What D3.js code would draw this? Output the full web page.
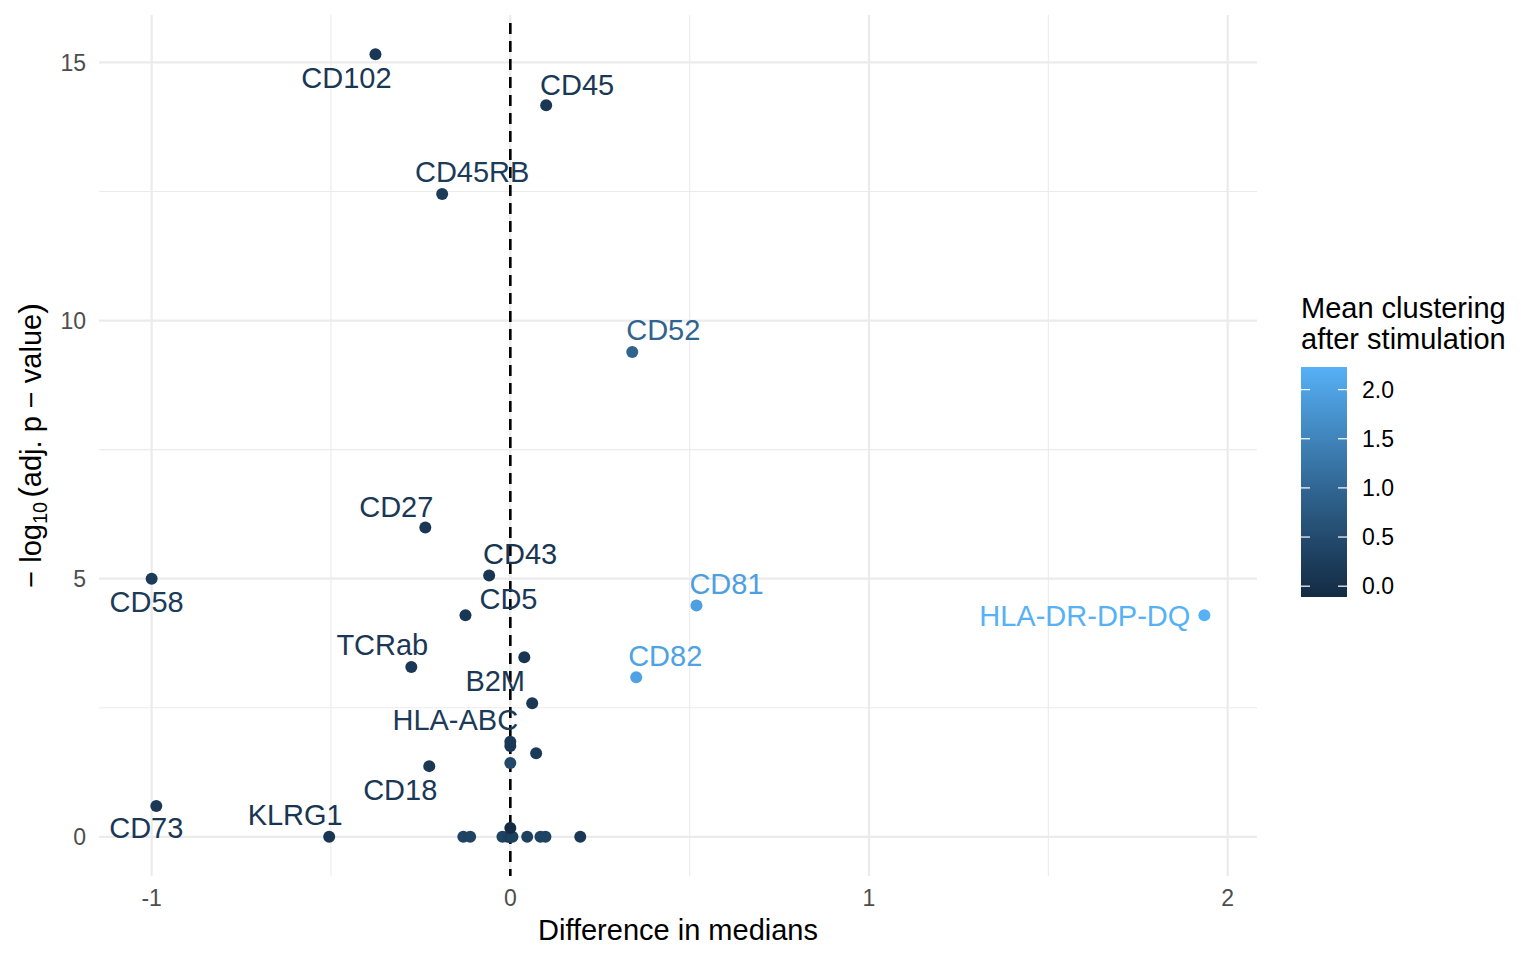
<!DOCTYPE html>
<html lang="en">
<head>
    <meta charset="UTF-8">
    <title>Volcano</title>
    <script src="https://d3js.org/d3.v7.min.js"></script>
    <style>
        body { margin: 0; background: #fff; font-family: "Liberation Sans", Arial, sans-serif; }
    </style>
</head>
<body>
<div id="my_dataviz"></div>
<script>
    // data
    var markers   = ["CD102", "CD45", "CD45RB", "CD52", "CD27", "CD58", "CD43", "CD81", "HLA-DR-DP-DQ", "CD5",
                     "TCRab", "", "CD82", "B2M", "HLA-ABC", "", "", "", "CD18", "CD73",
                     "KLRG1", "", "", "", "", "", "", "", "", "", "", ""];
    var diffMed   = [-0.376, 0.100, -0.190, 0.340, -0.237, -1.000, -0.059, 0.519, 1.935, -0.125,
                     -0.276, 0.039, 0.351, 0.061, 0.000, 0.000, 0.072, 0.000, -0.226, -0.987,
                     -0.505, -0.131, -0.112, -0.022, -0.008, 0.000, 0.006, 0.000, 0.047, 0.084, 0.098, 0.195];
    var negLogP   = [15.16, 14.17, 12.45, 9.39, 5.99, 5.00, 5.06, 4.48, 4.29, 4.29,
                     3.29, 3.48, 3.09, 2.59, 1.84, 1.76, 1.62, 1.43, 1.37, 0.60,
                     0.00, 0.00, 0.00, 0.00, 0.00, 0.00, 0.00, 0.17, 0.00, 0.00, 0.00, 0.00];
    var meanClust = [0.15, 0.15, 0.20, 0.95, 0.15, 0.20, 0.10, 1.95, 2.23, 0.15,
                     0.15, 0.10, 2.00, 0.15, 0.20, 0.15, 0.20, 0.45, 0.15, 0.15,
                     0.10, 0.35, 0.35, 0.35, 0.30, 0.20, 0.30, -0.11, 0.30, 0.35, 0.35, 0.15];
    var xTicks = [-1, 0, 1, 2];
    var yTicks = [0, 5, 10, 15];
    var legendTicks = [0, 0.5, 1, 1.5, 2];

    // label offsets from their point (px), mimicking ggrepel placement
    var labelNudge = {
        "CD102": [-29, 23], "CD45": [31, -21], "CD45RB": [30, -22], "CD52": [31, -22],
        "CD27": [-29, -21], "CD58": [-5, 23], "CD43": [31, -22], "CD81": [30, -22],
        "HLA-DR-DP-DQ": [-14, 0], "CD5": [43, -17], "TCRab": [-29, -22], "CD82": [29, -22],
        "B2M": [-37, -23], "HLA-ABC": [-55, -22], "CD18": [-29, 23], "CD73": [-10, 22],
        "KLRG1": [-34, -22]
    };

    var data = markers.map(function(m, i) {
        return {label: m, x: diffMed[i], y: negLogP[i], c: meanClust[i]};
    });

    var W = 1536, H = 960;
    var panel = {left: 99, right: 1257, top: 15, bottom: 876};

    var svg = d3.select("#my_dataviz")
        .append("svg")
        .attr("width", W)
        .attr("height", H)
        .style("font-family", "'Liberation Sans', Arial, sans-serif");

    // scales with ggplot's 5% expansion
    var xe = d3.extent(diffMed), xp = (xe[1] - xe[0]) * 0.05;
    var ye = d3.extent(negLogP), yp = (ye[1] - ye[0]) * 0.05;
    var x = d3.scaleLinear().domain([xe[0] - xp, xe[1] + xp]).range([panel.left, panel.right]);
    var y = d3.scaleLinear().domain([ye[0] - yp, ye[1] + yp]).range([panel.bottom, panel.top]);
    var col = d3.scaleLinear().domain(d3.extent(meanClust)).range(["#132B43", "#56B1F7"])
        .interpolate(d3.interpolateLab);

    // grid
    var grid = svg.append("g");
    var xMinor = xTicks.slice(0, -1).map(function(t) { return t + 0.5; });
    var yMinor = yTicks.slice(0, -1).map(function(t) { return t + 2.5; });
    grid.selectAll(".xmin").data(xMinor).enter().append("line")
        .attr("x1", d => x(d)).attr("x2", d => x(d)).attr("y1", panel.top).attr("y2", panel.bottom)
        .attr("stroke", "#ebebeb").attr("stroke-width", 1.1);
    grid.selectAll(".ymin").data(yMinor).enter().append("line")
        .attr("y1", d => y(d)).attr("y2", d => y(d)).attr("x1", panel.left).attr("x2", panel.right)
        .attr("stroke", "#ebebeb").attr("stroke-width", 1.1);
    grid.selectAll(".xmaj").data(xTicks).enter().append("line")
        .attr("x1", d => x(d)).attr("x2", d => x(d)).attr("y1", panel.top).attr("y2", panel.bottom)
        .attr("stroke", "#ebebeb").attr("stroke-width", 2.2);
    grid.selectAll(".ymaj").data(yTicks).enter().append("line")
        .attr("y1", d => y(d)).attr("y2", d => y(d)).attr("x1", panel.left).attr("x2", panel.right)
        .attr("stroke", "#ebebeb").attr("stroke-width", 2.2);

    // tick labels
    svg.append("g").selectAll("text").data(xTicks).enter().append("text")
        .attr("x", d => x(d)).attr("y", 906)
        .attr("text-anchor", "middle")
        .attr("fill", "#4d4d4d").style("font-size", "23px")
        .text(d => d);
    svg.append("g").selectAll("text").data(yTicks).enter().append("text")
        .attr("x", 86).attr("y", d => y(d)).attr("dy", "0.36em")
        .attr("text-anchor", "end")
        .attr("fill", "#4d4d4d").style("font-size", "23px")
        .text(d => d);

    // axis titles
    svg.append("text")
        .attr("x", (panel.left + panel.right) / 2).attr("y", 940)
        .attr("text-anchor", "middle").style("font-size", "29px")
        .text("Difference in medians");
    var yt = svg.append("text")
        .attr("transform", "translate(41," + ((panel.top + panel.bottom) / 2) + ") rotate(-90)")
        .attr("text-anchor", "middle").style("font-size", "29px");
    yt.append("tspan").text("\u2212 log");
    yt.append("tspan").attr("dy", 6).style("font-size", "20px").text("10");
    yt.append("tspan").attr("dy", -6).attr("dx", 4).style("font-size", "32px").text("(");
    yt.append("tspan").text("adj. p \u2212 value");
    yt.append("tspan").style("font-size", "32px").text(")");

    // reference line at 0
    svg.append("line")
        .attr("x1", x(0)).attr("x2", x(0)).attr("y1", panel.top + 8).attr("y2", panel.bottom)
        .attr("stroke", "#000").attr("stroke-width", 2.6).attr("stroke-dasharray", "11,7");

    // points
    svg.append("g").selectAll("circle").data(data).enter().append("circle")
        .attr("cx", d => x(d.x)).attr("cy", d => y(d.y)).attr("r", 6)
        .attr("fill", d => col(d.c));

    // labels
    svg.append("g").selectAll("text").data(data.filter(d => d.label !== "")).enter().append("text")
        .attr("x", d => x(d.x) + labelNudge[d.label][0])
        .attr("y", d => y(d.y) + labelNudge[d.label][1])
        .attr("dy", "0.36em")
        .attr("text-anchor", d => d.label === "HLA-DR-DP-DQ" ? "end" : "middle")
        .attr("fill", d => col(d.c))
        .style("font-size", "29px")
        .text(d => d.label);

    // colour bar legend
    var lg = {x: 1301, y: 367, w: 46, h: 230};
    var cExt = d3.extent(meanClust);
    var lc = d3.scaleLinear().domain(cExt).range([lg.y + lg.h, lg.y]);
    var grad = svg.append("defs").append("linearGradient")
        .attr("id", "cbar").attr("x1", 0).attr("y1", 1).attr("x2", 0).attr("y2", 0);
    d3.range(0, 1.0001, 0.05).forEach(function(t) {
        grad.append("stop").attr("offset", t)
            .attr("stop-color", col(cExt[0] + t * (cExt[1] - cExt[0])));
    });
    svg.append("rect")
        .attr("x", lg.x).attr("y", lg.y).attr("width", lg.w).attr("height", lg.h)
        .attr("fill", "url(#cbar)");
    var lt = svg.append("g").selectAll("g").data(legendTicks).enter().append("g");
    lt.append("line").attr("x1", lg.x).attr("x2", lg.x + 9)
        .attr("y1", d => lc(d)).attr("y2", d => lc(d)).attr("stroke", "#fff").attr("stroke-width", 1.2);
    lt.append("line").attr("x1", lg.x + lg.w - 9).attr("x2", lg.x + lg.w)
        .attr("y1", d => lc(d)).attr("y2", d => lc(d)).attr("stroke", "#fff").attr("stroke-width", 1.2);
    lt.append("text").attr("x", lg.x + 61).attr("y", d => lc(d)).attr("dy", "0.36em")
        .style("font-size", "23px").attr("fill", "#000")
        .text(d => d3.format(".1f")(d));

    svg.append("text").attr("x", lg.x).attr("y", 318).style("font-size", "29px").text("Mean clustering");
    svg.append("text").attr("x", lg.x).attr("y", 349).style("font-size", "29px").text("after stimulation");
</script>
</body>
</html>
